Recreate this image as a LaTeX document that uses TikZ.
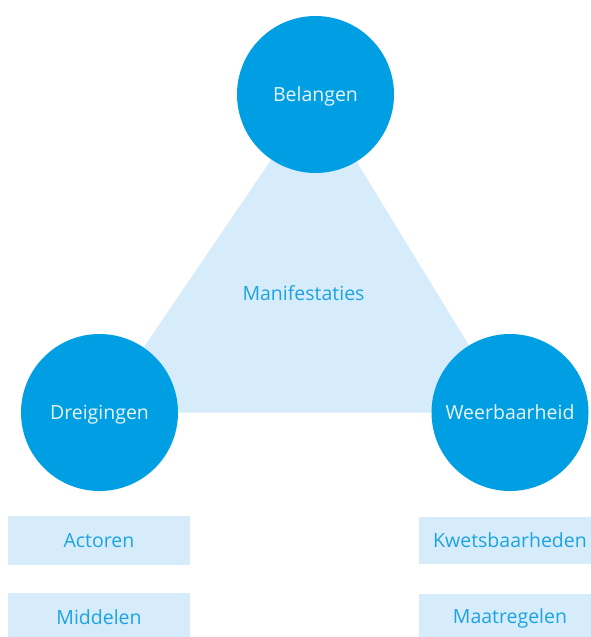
\documentclass[tikz,border=0pt]{standalone}
\usepackage{fontspec}
\setmainfont{Open Sans}
\usetikzlibrary{backgrounds}
\definecolor{kernblauw}{HTML}{009FE3}
\definecolor{lichtblauw}{HTML}{D7ECFA}
\definecolor{tekstblauw}{HTML}{1CA3E3}
\definecolor{tekstwit}{HTML}{E8F5FC}
\tikzset{
  kern/.style={circle, fill=kernblauw, minimum size=157pt, inner sep=0pt,
    text=tekstwit, font=\fontsize{19.5}{24}\selectfont, text height=14pt, text depth=0pt},
  label/.style={fill=lichtblauw, inner sep=0pt, text=tekstblauw,
    font=\fontsize{19.5}{24}\selectfont, text height=14pt, text depth=0pt}
}
\begin{document}
\begin{tikzpicture}[x=1pt,y=-1pt]
\useasboundingbox (0,0) rectangle (590,637);
\node (belangen) [kern] at (315.5,94.5) {Belangen};
\node (dreigingen) [kern] at (99.5,412.5) {Dreigingen};
\node (weerbaarheid) [kern] at (510,412.5) {Weerbaarheid};
\begin{scope}[on background layer]
\fill [lichtblauw] (belangen.center) -- (dreigingen.center) -- (weerbaarheid.center) -- cycle;
\end{scope}
\node (manifestaties) [text=tekstblauw, font=\fontsize{19.5}{24}\selectfont, text height=14pt, text depth=0pt] at (303.5,293.5) {Manifestaties};
\node (actoren) [label, minimum width=182pt, minimum height=49pt] at (99,540.5) {Actoren};
\node (middelen) [label, minimum width=182pt, minimum height=48pt] at (99,617) {Middelen};
\node (kwetsbaarheden) [label, minimum width=182pt, minimum height=47pt] at (510,540.5) {Kwetsbaarheden};
\node (maatregelen) [label, minimum width=182pt, minimum height=45pt] at (510,616.5) {Maatregelen};
\end{tikzpicture}
\end{document}
